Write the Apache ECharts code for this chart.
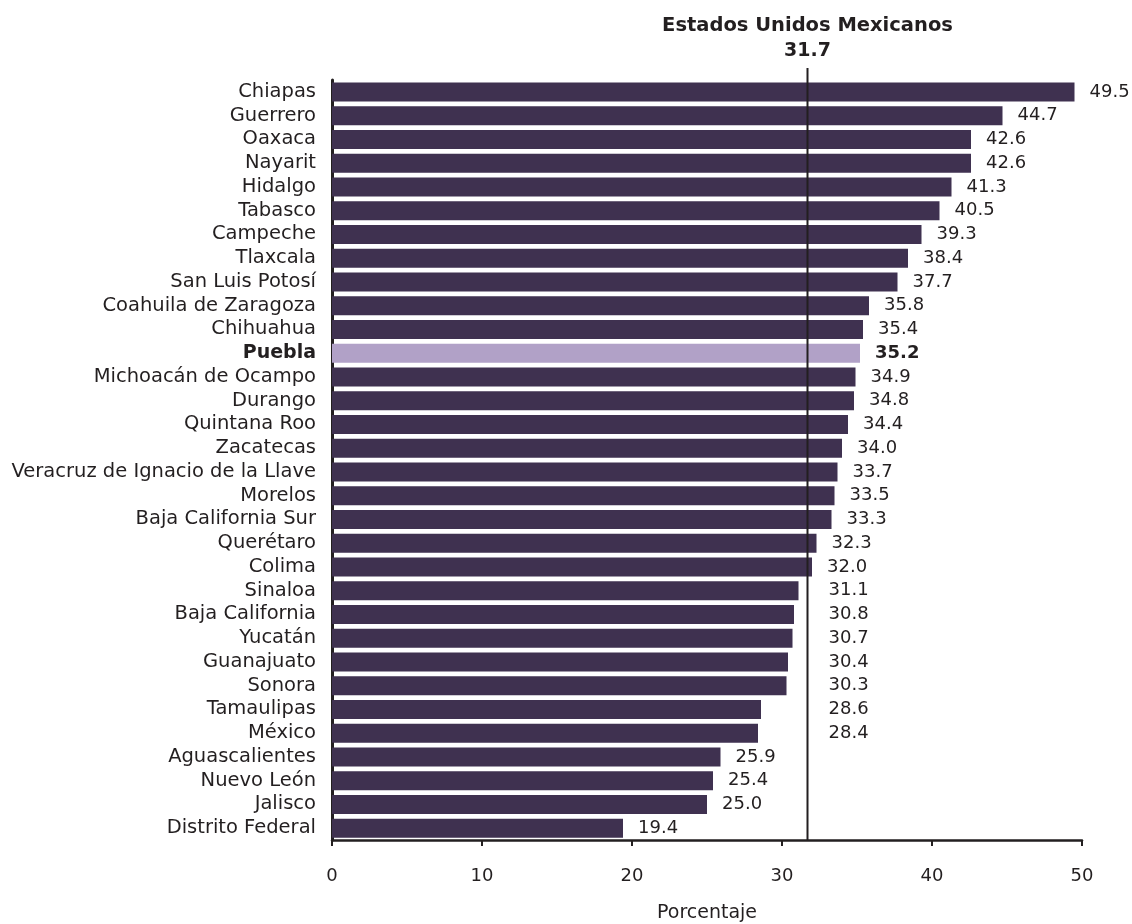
<!DOCTYPE html>
<html>
<head>
<meta charset="utf-8">
<script src="https://cdn.jsdelivr.net/npm/echarts@6/dist/echarts.min.js"></script>
<style>
html,body{margin:0;padding:0;background:#fff;}
#chart{width:1132px;height:924px;}
</style>
</head>
<body>
<div id="chart"></div>
<script>
const states = [
  'Chiapas','Guerrero','Oaxaca','Nayarit','Hidalgo','Tabasco','Campeche','Tlaxcala',
  'San Luis Potosí','Coahuila de Zaragoza','Chihuahua','Puebla','Michoacán de Ocampo',
  'Durango','Quintana Roo','Zacatecas','Veracruz de Ignacio de la Llave','Morelos',
  'Baja California Sur','Querétaro','Colima','Sinaloa','Baja California','Yucatán',
  'Guanajuato','Sonora','Tamaulipas','México','Aguascalientes','Nuevo León','Jalisco',
  'Distrito Federal'
];
const values = [
  49.5, 44.7, 42.6, 42.6, 41.3, 40.5, 39.3, 38.4,
  37.7, 35.8, 35.4, 35.2, 34.9,
  34.8, 34.4, 34.0, 33.7, 33.5,
  33.3, 32.3, 32.0, 31.1, 30.8, 30.7,
  30.4, 30.3, 28.6, 28.4, 25.9, 25.4, 25.0,
  19.4
];
const nationalLabel = 'Estados Unidos Mexicanos';
const nationalValue = 31.7;
const highlighted = 'Puebla';
const xMin = 0, xMax = 50, xInterval = 10;
const axisName = 'Porcentaje';

const FONT = 'DejaVu Sans';
const TXT = '#231f20';
const BAR = '#3f3150';
const BAR_HI = '#b1a1c7';
const GRID = {left: 332, right: 50, top: 80, bottom: 84, outerBoundsMode: 'none', containLabel: false};
const PX = (1132 - GRID.left - GRID.right) / (xMax - xMin);
const DIST = 15;

const barData = values.map((v, i) => {
  const isHi = states[i] === highlighted;
  const item = {value: v, itemStyle: {color: isHi ? BAR_HI : BAR}};
  const label = {};
  if (isHi) label.fontWeight = 'bold';
  // labels that would collide with the national line are moved right of it
  if (v < nationalValue && (nationalValue - v) * PX < DIST + 42) {
    label.offset = [(nationalValue - v) * PX + 6, 0];
  }
  item.label = label;
  return item;
});

const chart = echarts.init(document.getElementById('chart'), null, {renderer: 'canvas'});
chart.setOption({
  animation: false,
  backgroundColor: '#ffffff',
  grid: GRID,
  xAxis: {
    type: 'value', min: xMin, max: xMax, interval: xInterval,
    splitLine: {show: false},
    axisLine: {show: true, lineStyle: {color: TXT, width: 2.5}},
    axisTick: {show: true, length: 6, lineStyle: {color: TXT, width: 2}},
    axisLabel: {color: TXT, fontFamily: FONT, fontSize: 18, margin: 27},
    name: axisName, nameLocation: 'middle', nameGap: 64,
    nameTextStyle: {color: TXT, fontFamily: FONT, fontSize: 19}
  },
  yAxis: {
    type: 'category', data: states, inverse: true,
    axisLine: {show: true, lineStyle: {color: TXT, width: 3}},
    axisTick: {show: false},
    axisLabel: {
      interval: 0, hideOverlap: false,
      color: TXT, fontFamily: FONT, fontSize: 19.5, margin: 16,
      formatter: (v) => v === highlighted ? '{b|' + v + '}' : v,
      rich: {b: {fontWeight: 'bold', fontFamily: FONT, fontSize: 19, color: TXT}}
    }
  },
  series: [
    {
      type: 'bar', data: barData, barWidth: '80%',
      label: {
        show: true, position: 'right', distance: DIST,
        color: TXT, fontFamily: FONT, fontSize: 18,
        formatter: (p) => p.value.toFixed(1)
      },
      z: 2
    },
    {
      type: 'custom',
      data: [[nationalValue, states[0]]],
      encode: {x: 0, y: 1},
      clip: false,
      z: 5,
      silent: true,
      renderItem: (params, api) => {
        const x = api.coord([api.value(0), 0])[0];
        const cs = params.coordSys;
        return {
          type: 'group',
          children: [
            {type: 'line', shape: {x1: x, y1: cs.y - 12, x2: x, y2: cs.y + cs.height},
             style: {stroke: TXT, lineWidth: 2}},
            {type: 'text', x: x, y: cs.y - 54,
             style: {text: nationalLabel, fill: TXT, font: 'bold 19.5px "DejaVu Sans"',
                     textAlign: 'center', textVerticalAlign: 'middle'}},
            {type: 'text', x: x, y: cs.y - 29,
             style: {text: api.value(0).toFixed(1), fill: TXT, font: 'bold 19px "DejaVu Sans"',
                     textAlign: 'center', textVerticalAlign: 'middle'}}
          ]
        };
      }
    }
  ]
});
</script>
</body>
</html>
